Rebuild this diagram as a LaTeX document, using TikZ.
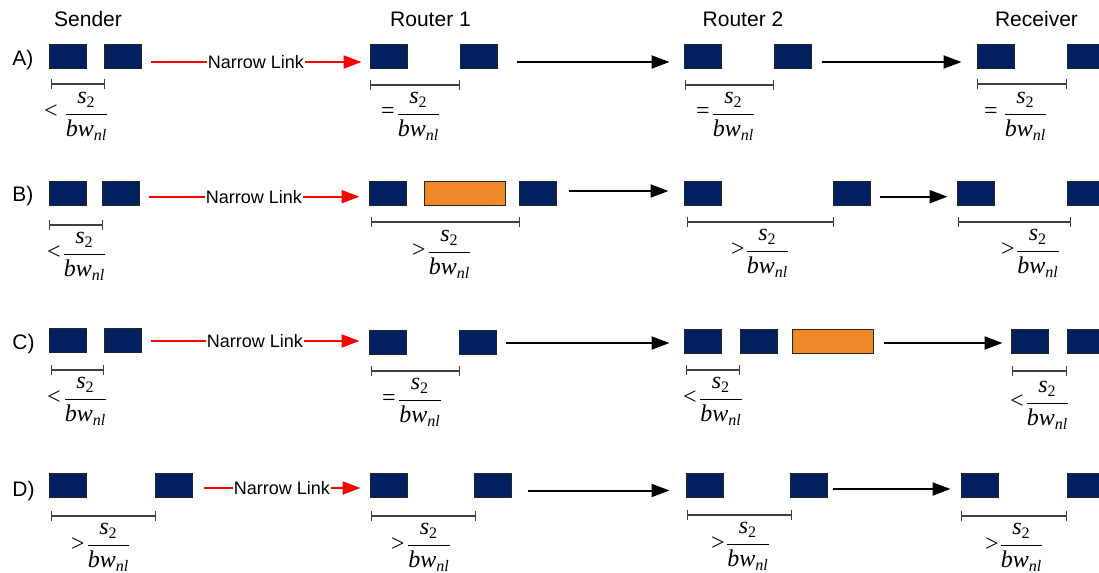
\documentclass[tikz,border=0pt]{standalone}
\usepackage{fontspec}
\usepackage{amsmath}
\setmainfont{Liberation Sans}
\newfontfamily\tms{Liberation Serif}
\usetikzlibrary{arrows.meta,calc}
\definecolor{navy}{HTML}{002060}
\definecolor{orng}{HTML}{F0882A}
\definecolor{dimgr}{HTML}{404040}
\newcommand{\sbw}{\dfrac{\text{\tms\itshape s}_{\text{\tms 2}}}{\text{\tms\itshape bw}_{\text{\tms\itshape nl}}}}
\tikzset{
  nbox/.style={draw=black!85, line width=0.5pt, fill=navy, minimum width=18.5pt, minimum height=12pt, inner sep=0pt},
  obox/.style={nbox, fill=orng, minimum width=40.5pt},
  head/.style={font=\fontsize{10.5}{12}\selectfont, anchor=base, inner sep=0pt},
  rowlbl/.style={font=\fontsize{10.5}{12}\selectfont, anchor=base west, inner sep=0pt},
  redlink/.style={draw=red, line width=1pt, -{Triangle[length=9pt,width=6.5pt]}},
  blk/.style={draw=black, line width=1pt, -{Triangle[length=9pt,width=6.5pt]}},
  nltext/.style={fill=white, inner sep=0.6pt, font=\fontsize{9}{10}\selectfont, text=black},
  dimline/.style={draw=dimgr, line width=0.6pt, {Bar[width=5pt]}-{Bar[width=5pt]}},
  frc/.style={anchor=base, inner sep=0pt, font=\fontsize{12}{14}\selectfont},
  rel/.style={anchor=base, inner sep=0pt, font=\tms\fontsize{12}{14}\selectfont},
}
\begin{document}
\begin{tikzpicture}[x=0.5pt,y=-0.5pt]
\useasboundingbox (0,0) rectangle (1099,573);
\clip (0,0) rectangle (1099,573);
% headings
\node[head] (hS) at (88,26) {Sender};
\node[head] (hR1) at (430.5,26) {Router 1};
\node[head] (hR2) at (743,26) {Router 2};
\node[head] (hRc) at (1036.5,26) {Receiver};
% row labels
\node[rowlbl] (lA) at (12,65.5) {A)};
\node[rowlbl] (lB) at (12,201.5) {B)};
\node[rowlbl] (lC) at (12,349.5) {C)};
\node[rowlbl] (lD) at (12,496) {D)};

% ---------- Row A ----------
\node[nbox] (As1) at (67.5,56) {};
\node[nbox] (As2) at (122.5,56) {};
\node[nbox] (Ar1a) at (389,56) {};
\node[nbox] (Ar1b) at (479,56) {};
\node[nbox] (Ar2a) at (702.5,56) {};
\node[nbox] (Ar2b) at (792.5,56) {};
\node[nbox] (Arca) at (996,56) {};
\node[nbox] (Arcb) at (1085.5,56) {};
\draw[redlink] ($(As2.east)+(9,6)$) -- node[nltext] (Anl) {Narrow Link} ($(Ar1a.west)+(-8.5,6)$);
\draw[blk] ($(Ar1b.east)+(19,6)$) -- ($(Ar2a.west)+(-14,6)$);
\draw[blk] ($(Ar2b.east)+(10,6)$) -- ($(Arca.west)+(-15.5,6)$);
\draw[dimline] (50.7,84) -- (104.7,84);
\draw[dimline] (370,85) -- (460,85);
\draw[dimline] (685,85) -- (774,85);
\draw[dimline] (977,84) -- (1067,84);
\node[rel] (Asr) at (51,119) {<};
\node[frc] (Asf) at (86.5,120) {$\sbw$};
\node[rel] (Ar1r) at (388,119) {=};
\node[frc] (Ar1f) at (418.5,120) {$\sbw$};
\node[rel] (Ar2r) at (703,119) {=};
\node[frc] (Ar2f) at (733.5,120) {$\sbw$};
\node[rel] (Arcr) at (991,119) {=};
\node[frc] (Arcf) at (1025.5,120) {$\sbw$};

% ---------- Row B ----------
\node[nbox] (Bs1) at (67.5,193) {};
\node[nbox] (Bs2) at (121,193) {};
\node[nbox] (Br1a) at (388,193) {};
\node[obox] (Bor) at (464.5,193) {};
\node[nbox] (Br1c) at (537.5,193) {};
\node[nbox] (Br2a) at (702.5,193) {};
\node[nbox] (Br2b) at (851.5,193) {};
\node[nbox] (Brca) at (975.5,193) {};
\node[nbox] (Brcb) at (1085.5,193) {};
\draw[redlink] ($(Bs2.east)+(8.5,3.7)$) -- node[nltext] (Bnl) {Narrow Link} ($(Br1a.west)+(-9.5,3.7)$);
\draw[blk] ($(Br1c.east)+(12,-2)$) -- ($(Br2a.west)+(-15,-2)$);
\draw[blk] ($(Br2b.east)+(9,3.7)$) -- ($(Brca.west)+(-9,3.7)$);
\draw[dimline] (49,225) -- (103,225);
\draw[dimline] (371,222) -- (520,222);
\draw[dimline] (687,222) -- (834,222);
\draw[dimline] (958,222) -- (1071,222);
\node[rel] (Bsr) at (54,259) {<};
\node[frc] (Bsf) at (84.5,260) {$\sbw$};
\node[rel] (Br1r) at (419,257) {>};
\node[frc] (Br1f) at (449.5,258) {$\sbw$};
\node[rel] (Br2r) at (738,256) {>};
\node[frc] (Br2f) at (767.5,257) {$\sbw$};
\node[rel] (Brcr) at (1008,256) {>};
\node[frc] (Brcf) at (1038,257) {$\sbw$};

% ---------- Row C ----------
\node[nbox] (Cs1) at (67.5,340) {};
\node[nbox] (Cs2) at (122.5,340) {};
\node[nbox] (Cr1a) at (388,342) {};
\node[nbox] (Cr1b) at (478,342) {};
\node[nbox] (Cr2a) at (703,341) {};
\node[nbox] (Cr2b) at (759,341) {};
\node[obox] (Cor) at (832.5,341) {};
\node[nbox] (Crca) at (1030,341) {};
\node[nbox] (Crcb) at (1085.5,341) {};
\draw[redlink] ($(Cs2.east)+(9,1)$) -- node[nltext] (Cnl) {Narrow Link} ($(Cr1a.west)+(-9.5,-1)$);
\draw[blk] ($(Cr1b.east)+(8.5,1)$) -- ($(Cr2a.west)+(-14.5,2)$);
\draw[blk] ($(Cor.east)+(10,2)$) -- ($(Crca.west)+(-8.5,2)$);
\draw[dimline] (51,370) -- (104,370);
\draw[dimline] (371,371) -- (460,371);
\draw[dimline] (686,370) -- (740,370);
\draw[dimline] (1012,371) -- (1067,371);
\node[rel] (Csr) at (54,404) {<};
\node[frc] (Csf) at (85.5,405) {$\sbw$};
\node[rel] (Cr1r) at (389,405) {=};
\node[frc] (Cr1f) at (420,406) {$\sbw$};
\node[rel] (Cr2r) at (690,404) {<};
\node[frc] (Cr2f) at (721,405) {$\sbw$};
\node[rel] (Crcr) at (1017,408) {<};
\node[frc] (Crcf) at (1047.5,409) {$\sbw$};

% ---------- Row D ----------
\node[nbox] (Ds1) at (67.5,485.5) {};
\node[nbox] (Ds2) at (174,485.5) {};
\node[nbox] (Dr1a) at (389,485.5) {};
\node[nbox] (Dr1b) at (492.5,485.5) {};
\node[nbox] (Dr2a) at (705,485.5) {};
\node[nbox] (Dr2b) at (809,485.5) {};
\node[nbox] (Drca) at (979.5,485.5) {};
\node[nbox] (Drcb) at (1085.5,485.5) {};
\draw[redlink] ($(Ds2.east)+(10.5,2.5)$) -- node[nltext] (Dnl) {Narrow Link} ($(Dr1a.west)+(-9.5,2.5)$);
\draw[blk] ($(Dr1b.east)+(16,5)$) -- ($(Dr2a.west)+(-16.5,5)$);
\draw[blk] ($(Dr2b.east)+(4.5,3.5)$) -- ($(Drca.west)+(-10,3.5)$);
\draw[dimline] (51,516) -- (156,516);
\draw[dimline] (371,516) -- (476,516);
\draw[dimline] (687,515) -- (792,515);
\draw[dimline] (961,516) -- (1067,516);
\node[rel] (Dsr) at (78,551) {>};
\node[frc] (Dsf) at (108.5,551) {$\sbw$};
\node[rel] (Dr1r) at (398,551) {>};
\node[frc] (Dr1f) at (429,551) {$\sbw$};
\node[rel] (Dr2r) at (718,550) {>};
\node[frc] (Dr2f) at (748,550) {$\sbw$};
\node[rel] (Drcr) at (992,551) {>};
\node[frc] (Drcf) at (1021.5,551) {$\sbw$};
\end{tikzpicture}
\end{document}
